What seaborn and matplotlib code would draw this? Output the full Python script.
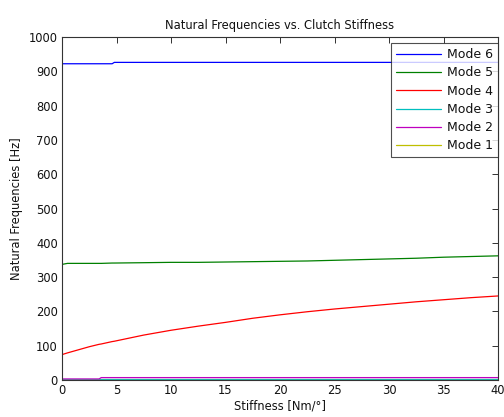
import matplotlib
matplotlib.use("Agg")
import matplotlib.pyplot as plt
import seaborn as sns
import pandas as pd

stiffness = [0, 0.5, 2.5, 3.4, 3.6, 4.6, 4.8, 7.5, 10, 12.5, 15, 17.5, 20, 22.5,
             25, 27.5, 30, 32.5, 35, 37.5, 40]
mode6 = [922, 922, 922, 922, 922, 922, 926, 926, 926, 926, 926, 926, 926, 926,
         926, 926, 926, 926, 926, 926, 926]
mode5 = [337, 340, 340, 340, 340, 341, 341, 342, 343, 343, 344, 345, 346, 347,
         349, 351, 353, 355, 358, 360, 362]
mode4 = [74, 79, 97, 104, 105, 112, 113, 131, 145, 157, 168, 180, 190, 199,
         207, 214, 221, 228, 234, 240, 245]
mode3 = [4] * 21
mode2 = [3, 3, 3, 3, 7, 7, 7, 7, 7, 7, 7, 7, 7, 7, 7, 7, 7, 7, 7, 7, 7]
mode1 = [1] * 21
mode_names = ["Mode 6", "Mode 5", "Mode 4", "Mode 3", "Mode 2", "Mode 1"]
colors = ["#0000ff", "#008000", "#ff0000", "#00bfbf", "#bf00bf", "#bfbf00"]

series = [mode6, mode5, mode4, mode3, mode2, mode1]
rows = []
for name, vals in zip(mode_names, series):
    for s, v in zip(stiffness, vals):
        rows.append({"Stiffness": s, "Freq": v, "Mode": name})
df = pd.DataFrame(rows)

sns.set_style("white")
plt.rcParams["font.family"] = ["DejaVu Sans"]
fs = 8.3

fig = plt.figure(figsize=(5.04, 4.17), dpi=100)
ax = fig.add_axes([62 / 504, 37 / 417, 436 / 504, 343 / 417])
sns.lineplot(data=df, x="Stiffness", y="Freq", hue="Mode",
             hue_order=mode_names, palette=dict(zip(mode_names, colors)),
             linewidth=0.9, ax=ax, estimator=None, sort=False)

ax.set_xlim(0, 40)
ax.set_ylim(0, 1000)
ax.set_xticks(range(0, 41, 5))
ax.set_yticks(range(0, 1001, 100))
ax.tick_params(direction="in", top=True, right=True, length=4, width=0.6,
               labelsize=fs, colors="#111111", pad=3)
for sp in ax.spines.values():
    sp.set_visible(True)
    sp.set_color("#333333")
    sp.set_linewidth(0.8)
ax.set_title("Natural Frequencies vs. Clutch Stiffness", fontsize=fs, pad=6,
             color="#111111")
ax.set_xlabel("Stiffness [Nm/°]", fontsize=fs, labelpad=2, color="#111111")
ax.set_ylabel("Natural Frequencies [Hz]", fontsize=fs, labelpad=4,
              color="#111111")

leg = ax.legend(loc="upper right", bbox_to_anchor=(1.0, 0.982), fontsize=9,
                frameon=True, fancybox=False, edgecolor="#222222",
                borderaxespad=0, handlelength=3.6, handletextpad=0.5,
                labelspacing=0.42, borderpad=0.4)
leg.get_frame().set_linewidth(0.8)
for line in leg.get_lines():
    line.set_linewidth(0.9)
for t in leg.get_texts():
    t.set_color("#111111")

fig.savefig("out.png", dpi=100, facecolor="white")
